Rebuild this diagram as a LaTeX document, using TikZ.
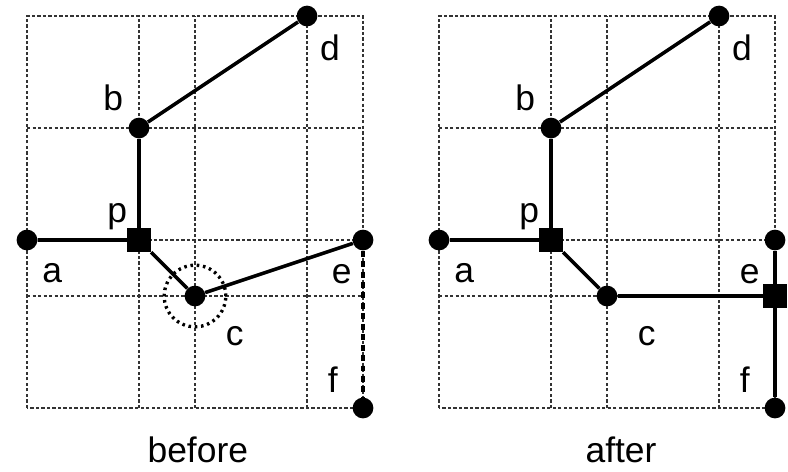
\documentclass[tikz,border=0pt]{standalone}
\usepackage{fontspec}
\setmainfont{Liberation Sans}
\tikzset{
	gridline/.style={line width=0.7pt, black!80, dash pattern=on 1.7pt off 1.1pt},
	dot/.style={circle, fill, inner sep=0pt, minimum size=0.37cm},
	sq/.style={rectangle, fill, inner sep=0pt, minimum size=0.42cm},
	wire/.style={line width=1.8pt},
	lbl/.style={anchor=base, inner sep=0pt, font=\fontsize{18}{20}\selectfont}
}
\begin{document}
\begin{tikzpicture}
			\useasboundingbox (-0.482,-1.125) rectangle (13.589,7.286);
			% before
			\draw[gridline] (0,0) rectangle (6,7);
			\draw[gridline] (2,0) -- (2,7);
			\draw[gridline] (3,0) -- (3,7);
			\draw[gridline] (5,0) -- (5,7);
			\draw[gridline] (0,2) -- (6,2);
			\draw[gridline] (0,3) -- (6,3);
			\draw[gridline] (0,5) -- (6,5);
			\node[dot] (a1) at (0,3) {};
			\node[sq] (p1) at (2,3) {};
			\node[dot] (b1) at (2,5) {};
			\node[dot] (d1) at (5,7) {};
			\node[dot] (c1) at (3,2) {};
			\node[dot] (e1) at (6,3) {};
			\node[dot] (f1) at (6,0) {};
			\draw[line width=1.7pt, dash pattern=on 1.3pt off 1.9pt] (c1) circle (0.55);
			\draw[wire] (a1) -- (p1) -- (b1) -- (d1);
			\draw[wire] (p1) -- (c1) -- (e1);
			\draw[wire, dash pattern=on 3pt off 2.3pt] (e1) -- (f1);
			\node[lbl] at (1.54,5.32) {b};
			\node[lbl] at (5.41,6.21) {d};
			\node[lbl] at (1.61,3.32) {p};
			\node[lbl] at (0.45,2.25) {a};
			\node[lbl] at (5.62,2.23) {e};
			\node[lbl] at (3.71,1.12) {c};
			\node[lbl] at (5.46,0.27) {f};
			\node[lbl] at (3.05,-0.98) {before};
			% after
			\begin{scope}[xshift=7.357cm]
			\draw[gridline] (0,0) rectangle (6,7);
			\draw[gridline] (2,0) -- (2,7);
			\draw[gridline] (3,0) -- (3,7);
			\draw[gridline] (5,0) -- (5,7);
			\draw[gridline] (0,2) -- (6,2);
			\draw[gridline] (0,3) -- (6,3);
			\draw[gridline] (0,5) -- (6,5);
			\node[dot] (a2) at (0,3) {};
			\node[sq] (p2) at (2,3) {};
			\node[dot] (b2) at (2,5) {};
			\node[dot] (d2) at (5,7) {};
			\node[dot] (c2) at (3,2) {};
			\node[dot] (e2) at (6,3) {};
			\node[sq] (q2) at (6,2) {};
			\node[dot] (f2) at (6,0) {};
			\draw[wire] (a2) -- (p2) -- (b2) -- (d2);
			\draw[wire] (p2) -- (c2) -- (q2);
			\draw[wire] (e2) -- (q2) -- (f2);
			\node[lbl] at (1.54,5.32) {b};
			\node[lbl] at (5.41,6.21) {d};
			\node[lbl] at (1.61,3.32) {p};
			\node[lbl] at (0.45,2.25) {a};
			\node[lbl] at (5.55,2.23) {e};
			\node[lbl] at (3.71,1.12) {c};
			\node[lbl] at (5.46,0.27) {f};
			\node[lbl] at (3.25,-0.98) {after};
			\end{scope}
		\end{tikzpicture}
\end{document}
